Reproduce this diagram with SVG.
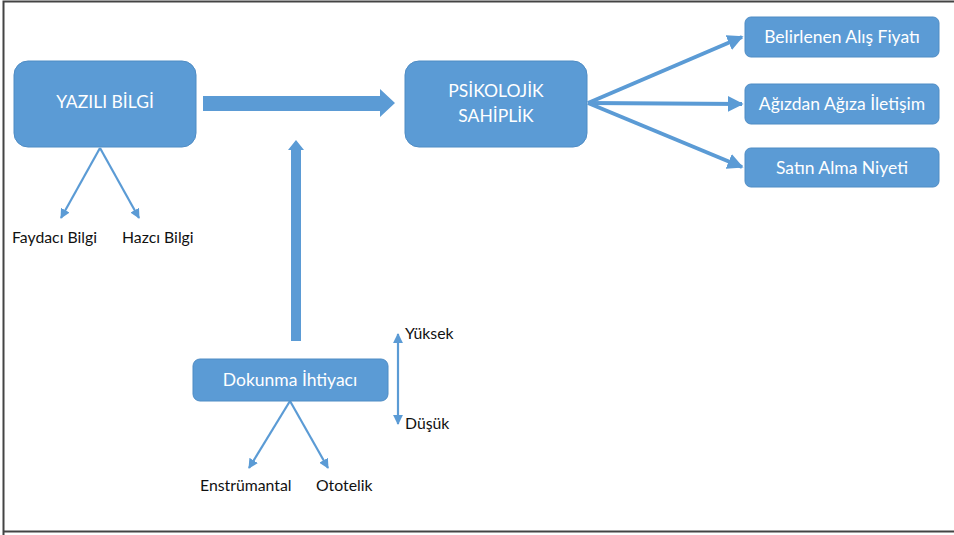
<svg xmlns="http://www.w3.org/2000/svg" width="954" height="535" viewBox="0 0 954 535">
<style>
.box{fill:#5b9bd5;stroke:#4f8cc4;stroke-width:1}
.wt{fill:#ffffff;font-family:Lato,"Liberation Sans",sans-serif;font-size:17.5px;text-anchor:middle}
.bt{fill:#111111;font-family:Lato,"Liberation Sans",sans-serif;font-size:15.8px}
.thin{stroke:#5b9bd5;stroke-width:2.2;fill:none}
.mid{stroke:#5b9bd5;stroke-width:4;fill:none}
.fat{fill:#5b9bd5}
</style>
<defs>
<marker id="hs" viewBox="0 0 10 10" refX="9" refY="5" markerWidth="4.5" markerHeight="4.5" orient="auto" markerUnits="strokeWidth">
<path d="M0,0 L10,5 L0,10 z" fill="#5b9bd5"/>
</marker>
<marker id="hm" viewBox="0 0 10 10" refX="9" refY="5" markerWidth="4" markerHeight="4" orient="auto" markerUnits="strokeWidth">
<path d="M0,0 L10,5 L0,10 z" fill="#5b9bd5"/>
</marker>
</defs>
<rect x="0" y="0" width="954" height="535" fill="#ffffff"/>
<path d="M3.5,535 V1.5 H954 M3.5,531.5 H954" stroke="#444" stroke-width="2" fill="none"/>

<g id="connectors">
<path class="fat" d="M203,96 H380 V89 L395,103 L380,117 V111 H203 z"/>
<path class="fat" d="M291,341 V150 H288 L296,140 L304,150 H301 V341 z"/>
<line class="mid" x1="588" y1="103" x2="742" y2="37" marker-end="url(#hm)"/>
<line class="mid" x1="588" y1="103" x2="742" y2="104" marker-end="url(#hm)"/>
<line class="mid" x1="588" y1="103" x2="742" y2="167" marker-end="url(#hm)"/>
<line class="thin" x1="100" y1="148" x2="61" y2="218" marker-end="url(#hs)"/>
<line class="thin" x1="100" y1="148" x2="139" y2="218" marker-end="url(#hs)"/>
<line class="thin" x1="290" y1="401" x2="249" y2="468" marker-end="url(#hs)"/>
<line class="thin" x1="290" y1="401" x2="328" y2="468" marker-end="url(#hs)"/>
<line class="thin" x1="398" y1="340" x2="398" y2="334" marker-end="url(#hs)"/>
<line class="thin" x1="398" y1="338" x2="398" y2="424" marker-end="url(#hs)"/>
</g>

<g id="yazili-bilgi">
<rect class="box" x="14" y="61" width="182" height="86" rx="14"/>
<text class="wt" x="105" y="108">YAZILI BİLGİ</text>
</g>
<g id="psikolojik-sahiplik">
<rect class="box" x="405" y="61" width="182" height="86" rx="14"/>
<text class="wt" x="496" y="97">PSİKOLOJİK</text>
<text class="wt" x="496" y="122">SAHİPLİK</text>
</g>
<g id="belirlenen">
<rect class="box" x="745" y="17" width="194" height="40" rx="6"/>
<text class="wt" x="842" y="43">Belirlenen Alış Fiyatı</text>
</g>
<g id="agizdan">
<rect class="box" x="745" y="84" width="194" height="40" rx="6"/>
<text class="wt" x="842" y="110">Ağızdan Ağıza İletişim</text>
</g>
<g id="satin-alma">
<rect class="box" x="745" y="148" width="194" height="39" rx="6"/>
<text class="wt" x="842" y="174">Satın Alma Niyeti</text>
</g>
<g id="dokunma">
<rect class="box" x="193" y="359" width="195" height="42" rx="7"/>
<text class="wt" x="290" y="386">Dokunma İhtiyacı</text>
</g>
<g id="faydaci"><text class="bt" x="12" y="243">Faydacı Bilgi</text></g>
<g id="hazci"><text class="bt" x="122" y="243">Hazcı Bilgi</text></g>
<g id="enstrumantal"><text class="bt" x="200" y="491">Enstrümantal</text></g>
<g id="ototelik"><text class="bt" x="316" y="491">Ototelik</text></g>
<g id="yuksek"><text class="bt" x="405" y="339">Yüksek</text></g>
<g id="dusuk"><text class="bt" x="405" y="429">Düşük</text></g>
</svg>
